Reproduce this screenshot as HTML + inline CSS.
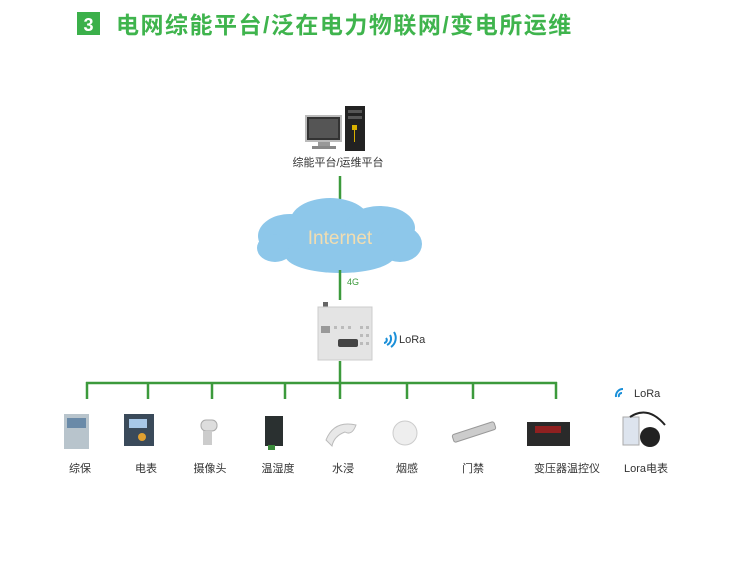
<!DOCTYPE html>
<html><head><meta charset="utf-8"><style>
body{margin:0;background:#fff;}
svg text{font-family:"Liberation Sans","Noto Sans CJK SC",sans-serif;}
</style></head><body>
<svg width="750" height="568" viewBox="0 0 750 568" xmlns="http://www.w3.org/2000/svg">
<rect width="750" height="568" fill="#fff"/>
<rect x="77" y="12" width="23" height="23" fill="#3bb04a"/>
<text x="88.5" y="31" text-anchor="middle" font-size="18" fill="#fff" font-weight="bold">3</text>
<text x="116" y="33" font-size="23" letter-spacing="1.5" fill="#3fb44d" font-weight="bold">电网综能平台/泛在电力物联网/变电所运维</text>
<!-- computer -->
<rect x="306" y="116" width="35" height="25" fill="#333" stroke="#bbb" stroke-width="2"/>
<rect x="309" y="119" width="29" height="19" fill="#555"/>
<rect x="318" y="142" width="12" height="5" fill="#999"/>
<rect x="312" y="146" width="24" height="3" fill="#888"/>
<rect x="345" y="106" width="20" height="45" fill="#222"/>
<rect x="348" y="110" width="14" height="3" fill="#555"/>
<rect x="348" y="116" width="14" height="3" fill="#555"/>
<rect x="352" y="125" width="5" height="5" fill="#d8b000"/>
<line x1="354.5" y1="130" x2="354.5" y2="142" stroke="#d8b000"/>
<text x="338" y="166" text-anchor="middle" font-size="11" fill="#333">综能平台/运维平台</text>
<line x1="340" y1="176" x2="340" y2="199" stroke="#3c9a3c" stroke-width="2.5"/>
<!-- cloud -->
<g fill="#8dc7ea">
<ellipse cx="340" cy="240" rx="80" ry="22"/>
<ellipse cx="290" cy="236" rx="32" ry="22"/>
<ellipse cx="330" cy="222" rx="40" ry="24"/>
<ellipse cx="380" cy="228" rx="35" ry="22"/>
<ellipse cx="400" cy="244" rx="22" ry="18"/>
<ellipse cx="275" cy="248" rx="18" ry="14"/>
<ellipse cx="340" cy="255" rx="55" ry="18"/>
</g>
<text x="340" y="244" text-anchor="middle" font-size="19" fill="#f2ddb0">Internet</text>
<line x1="340" y1="270" x2="340" y2="300" stroke="#3c9a3c" stroke-width="2.5"/>
<text x="347" y="285" font-size="9" fill="#3c9a3c">4G</text>
<!-- gateway -->
<rect x="323" y="302" width="5" height="6" fill="#666"/>
<rect x="318" y="307" width="54" height="53" fill="#e4e4e4" stroke="#ccc"/>
<rect x="321" y="326" width="9" height="7" fill="#999"/>
<rect x="338" y="339" width="20" height="8" rx="2" fill="#444"/>
<g fill="#bbb"><rect x="334" y="326" width="3" height="3"/><rect x="341" y="326" width="3" height="3"/><rect x="348" y="326" width="3" height="3"/><rect x="360" y="326" width="3" height="3"/><rect x="366" y="326" width="3" height="3"/><rect x="360" y="334" width="3" height="3"/><rect x="366" y="334" width="3" height="3"/><rect x="360" y="342" width="3" height="3"/><rect x="366" y="342" width="3" height="3"/></g>
<g stroke="#1a8fd8" stroke-width="2" fill="none"><path d="M384 343 a3 3 0 0 0 2 -5"/><path d="M387 345 a7 7 0 0 0 3 -10"/><path d="M391 347 a11 11 0 0 0 3 -15"/></g>
<text x="399" y="343" font-size="11" fill="#333">LoRa</text>
<line x1="340" y1="361" x2="340" y2="384" stroke="#3c9a3c" stroke-width="2.5"/>
<!-- bus -->
<line x1="86" y1="383" x2="557" y2="383" stroke="#3c9a3c" stroke-width="2.5"/>
<g stroke="#3c9a3c" stroke-width="2.5">
<line x1="87" y1="382" x2="87" y2="399"/><line x1="148" y1="382" x2="148" y2="399"/><line x1="212" y1="382" x2="212" y2="399"/><line x1="285" y1="382" x2="285" y2="399"/><line x1="340" y1="382" x2="340" y2="399"/><line x1="407" y1="382" x2="407" y2="399"/><line x1="473" y1="382" x2="473" y2="399"/><line x1="556" y1="382" x2="556" y2="399"/>
</g>
<!-- devices -->
<rect x="64" y="414" width="25" height="35" fill="#b8c4cc"/><rect x="67" y="418" width="19" height="10" fill="#6a8aa8"/>
<rect x="124" y="414" width="30" height="32" fill="#3a4a5a"/><rect x="129" y="419" width="18" height="9" fill="#a8c8e8"/><circle cx="142" cy="437" r="4" fill="#e0a030"/>
<rect x="201" y="420" width="16" height="11" rx="5" fill="#ddd" stroke="#aaa"/><rect x="203" y="431" width="9" height="14" fill="#ccc"/>
<rect x="265" y="416" width="18" height="30" fill="#2a3030"/><rect x="268" y="445" width="7" height="5" fill="#3a8a3a"/>
<path d="M326 440 Q334 420 356 425 Q352 436 345 432 Q334 436 332 446 Z" fill="#e8e8e8" stroke="#bbb"/>
<circle cx="405" cy="433" r="12" fill="#eee" stroke="#ccc"/>
<g transform="rotate(-18 474 432)"><rect x="452" y="428" width="44" height="8" rx="2" fill="#ccc" stroke="#999"/></g>
<rect x="527" y="422" width="43" height="24" fill="#2a2a2a"/><rect x="535" y="426" width="26" height="7" fill="#902020"/>
<g stroke="#1a8fd8" stroke-width="2" fill="none"><path d="M619 397 a3 3 0 0 1 3 -4"/><path d="M616 397 a7 7 0 0 1 7 -8"/></g>
<text x="634" y="397" font-size="11" fill="#333">LoRa</text>
<rect x="623" y="417" width="16" height="28" fill="#dde4ee" stroke="#aaa"/>
<circle cx="650" cy="437" r="10" fill="#222"/>
<path d="M630 417 Q648 405 665 425" stroke="#222" stroke-width="2" fill="none"/>
<g font-size="11" fill="#333" text-anchor="middle">
<text x="80" y="472">综保</text><text x="146" y="472">电表</text><text x="210" y="472">摄像头</text><text x="278" y="472">温湿度</text><text x="343" y="472">水浸</text><text x="407" y="472">烟感</text><text x="473" y="472">门禁</text><text x="567" y="472">变压器温控仪</text><text x="646" y="472">Lora电表</text>
</g>
</svg>
</body></html>
